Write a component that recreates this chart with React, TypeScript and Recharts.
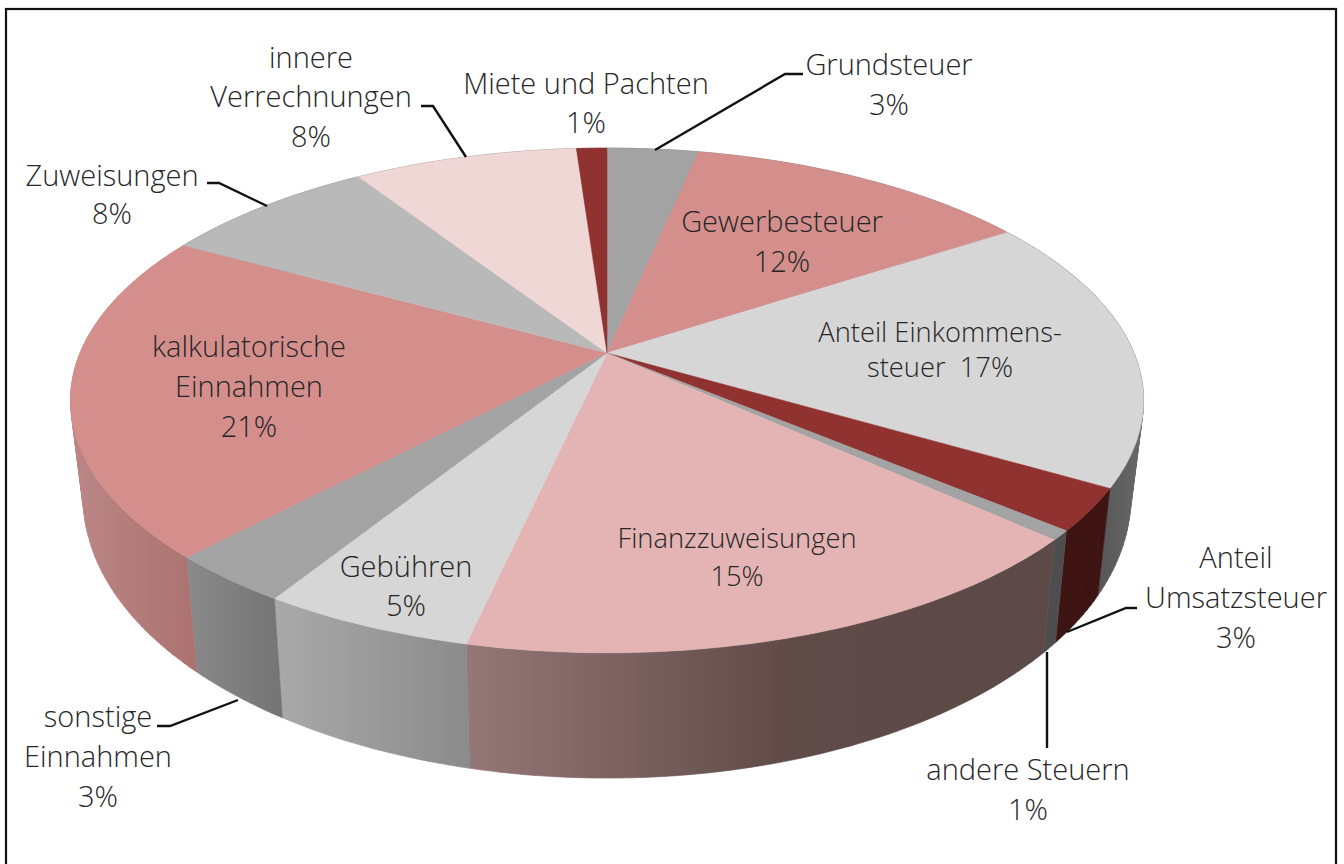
import React from "react";
import { PieChart, Pie } from "recharts";

// ---------- data ----------
const names = ["Grundsteuer","Gewerbesteuer","Anteil Einkommenssteuer","Anteil Umsatzsteuer","andere Steuern","Finanzzuweisungen","Gebühren","sonstige Einnahmen","kalkulatorische Einnahmen","Zuweisungen","innere Verrechnungen","Miete und Pachten"];
const values = [3.3, 12.5, 17.6, 2.7, 0.6, 16.8, 5.4, 3.2, 20.9, 7.8, 8.1, 1.1];
const labelLines = [
  ["Grundsteuer","3%"],["Gewerbesteuer","12%"],["Anteil Einkommens-","steuer  17%"],["Anteil","Umsatzsteuer","3%"],
  ["andere Steuern","1%"],["Finanzzuweisungen","15%"],["Gebühren","5%"],["sonstige","Einnahmen","3%"],
  ["kalkulatorische","Einnahmen","21%"],["Zuweisungen","8%"],["innere","Verrechnungen","8%"],["Miete und Pachten","1%"],
];
// ---------- styles ----------
const topColors = ["#a3a3a3","#d48f8d","#d6d6d6","#8f3230","#a3a3a3","#e3b4b3","#d6d6d6","#a3a3a3","#d48f8d","#b9b9b9","#eed7d5","#8f3230"];
const wallColors = ["#777","#777","url(#wEink)","#3e1512","#4e4e4e","url(#wFin)","url(#wGeb)","url(#wSon)","url(#wKalk)","#777","#777","#777"];
const FONT = "'Open Sans', sans-serif";

type Lay = { x: number; ys: number[]; size?: number; leader?: string };
const layout: Lay[] = [
  { x: 889, ys: [63, 103], leader: "803,74 785,74 655,150" },
  { x: 782, ys: [220, 260] },
  { x: 940, ys: [331, 366], size: 27.3 },
  { x: 1236, ys: [556, 596, 636], leader: "1137,608 1126,608 1067,632" },
  { x: 1028, ys: [768, 808], leader: "1047,748 1047,652" },
  { x: 737, ys: [537, 575], size: 27.3 },
  { x: 406, ys: [565, 604] },
  { x: 98, ys: [715, 755, 795], leader: "157,726 170,726 238,700" },
  { x: 249, ys: [345, 385, 425] },
  { x: 112, ys: [174, 212], leader: "207,183 219,183 267,206" },
  { x: 311, ys: [56, 95, 135], leader: "421,106 433,106 466,157" },
  { x: 586, ys: [82, 121] },
];

const topData = names.map((name, i) => ({ name, value: values[i], fill: topColors[i] }));
const wallData = names.map((name, i) => ({ name, value: values[i], fill: wallColors[i] }));

// projection of the flat pie circle onto the tilted disc
const PERSP = 0.188, SQUASH = 0.462;
function project(cx: number, cy: number, r: number, deg: number): [number, number] {
  const a = (deg * Math.PI) / 180;
  const u = Math.cos(a), v = -Math.sin(a);
  const w = 1 - PERSP * v;
  return [cx + (r * u) / w, cy + (r * SQUASH * v) / w];
}
function lower(cx: number, cy: number, p: [number, number]): [number, number] {
  return [cx + 0.976 * (p[0] - cx), cy + (p[1] - cy) * 1.11 + 92.3];
}
function arc(props: any): [number, number][] {
  const { cx, cy, outerRadius: r, startAngle: s, endAngle: e } = props;
  const n = Math.max(2, Math.ceil(Math.abs(e - s)));
  const pts: [number, number][] = [];
  for (let i = 0; i <= n; i++) pts.push(project(cx, cy, r, s + ((e - s) * i) / n));
  return pts;
}
const toPath = (pts: [number, number][]) => "M" + pts.map((p) => p[0].toFixed(1) + "," + p[1].toFixed(1)).join("L") + "Z";
function area(q: [number, number][]) {
  let s = 0;
  q.forEach((p, i) => {
    const n = q[(i + 1) % q.length];
    s += p[0] * n[1] - n[0] * p[1];
  });
  return s;
}

const TopSlice = (props: any) => (
  <path d={toPath([[props.cx, props.cy], ...arc(props)])} fill={props.fill} stroke={props.fill} strokeWidth={0.5} />
);
// the wall is one path made of small quads wound the same way, so its outline follows the slanted silhouette
const WallSlice = (props: any) => {
  const t = arc(props);
  const b = t.map((p) => lower(props.cx, props.cy, p));
  const d = t.slice(1).map((p, i) => {
    const q: [number, number][] = [t[i], p, b[i + 1], b[i]];
    return toPath(area(q) < 0 ? q.reverse() : q);
  }).join("");
  return <path d={d} fill={props.fill} stroke={props.fill} strokeWidth={0.6} />;
};

const SliceLabel = (props: any) => {
  const i: number = props.index;
  const lay = layout[i];
  const lines = labelLines[i];
  return (
    <g>
      {lay.leader && <polyline points={lay.leader} fill="none" stroke="#111" strokeWidth={2.4} />}
      {lines.map((t, k) => (
        <text key={k} x={lay.x} y={lay.ys[k]} textAnchor="middle" dominantBaseline="central"
          fontFamily={FONT} fontWeight={300} fontSize={lay.size ?? 29} fill="#262626" style={{ whiteSpace: "pre" }}>
          {t}
        </text>
      ))}
    </g>
  );
};

export default function App() {
  return (
    <div style={{ position: "absolute", left: 0, top: 0, width: 1344, height: 864, background: "#fff" }}>
      <PieChart width={1344} height={864} margin={{ top: 0, right: 0, bottom: 0, left: 0 }}>
        <defs>
          <linearGradient id="wFin" gradientUnits="userSpaceOnUse" x1={468} x2={1050} y1={0} y2={0}>
            <stop offset="0" stopColor="#947777" /><stop offset="0.55" stopColor="#5f4b48" /><stop offset="1" stopColor="#5c4a48" />
          </linearGradient>
          <linearGradient id="wGeb" gradientUnits="userSpaceOnUse" x1={275} x2={470} y1={0} y2={0}>
            <stop offset="0" stopColor="#a9a9a9" /><stop offset="1" stopColor="#8b8b8b" />
          </linearGradient>
          <linearGradient id="wSon" gradientUnits="userSpaceOnUse" x1={187} x2={283} y1={0} y2={0}>
            <stop offset="0" stopColor="#8a8a8a" /><stop offset="1" stopColor="#747474" />
          </linearGradient>
          <linearGradient id="wKalk" gradientUnits="userSpaceOnUse" x1={70} x2={195} y1={0} y2={0}>
            <stop offset="0" stopColor="#bb8786" /><stop offset="1" stopColor="#ab7270" />
          </linearGradient>
          <linearGradient id="wEink" gradientUnits="userSpaceOnUse" x1={1098} x2={1145} y1={0} y2={0}>
            <stop offset="0" stopColor="#565656" /><stop offset="1" stopColor="#6a6a6a" />
          </linearGradient>
        </defs>
        <rect x={6} y={9} width={1330} height={900} fill="#fff" stroke="#111" strokeWidth={2.2} />
        <Pie data={wallData} dataKey="value" nameKey="name" cx={607} cy={353} outerRadius={527} startAngle={90} endAngle={-270}
          paddingAngle={0} stroke="none" isAnimationActive={false} shape={WallSlice} labelLine={false} />
        <Pie data={topData} dataKey="value" nameKey="name" cx={607} cy={353} outerRadius={527} startAngle={90} endAngle={-270}
          paddingAngle={0} stroke="none" isAnimationActive={false} shape={TopSlice} labelLine={false} label={SliceLabel} />
      </PieChart>
    </div>
  );
}
